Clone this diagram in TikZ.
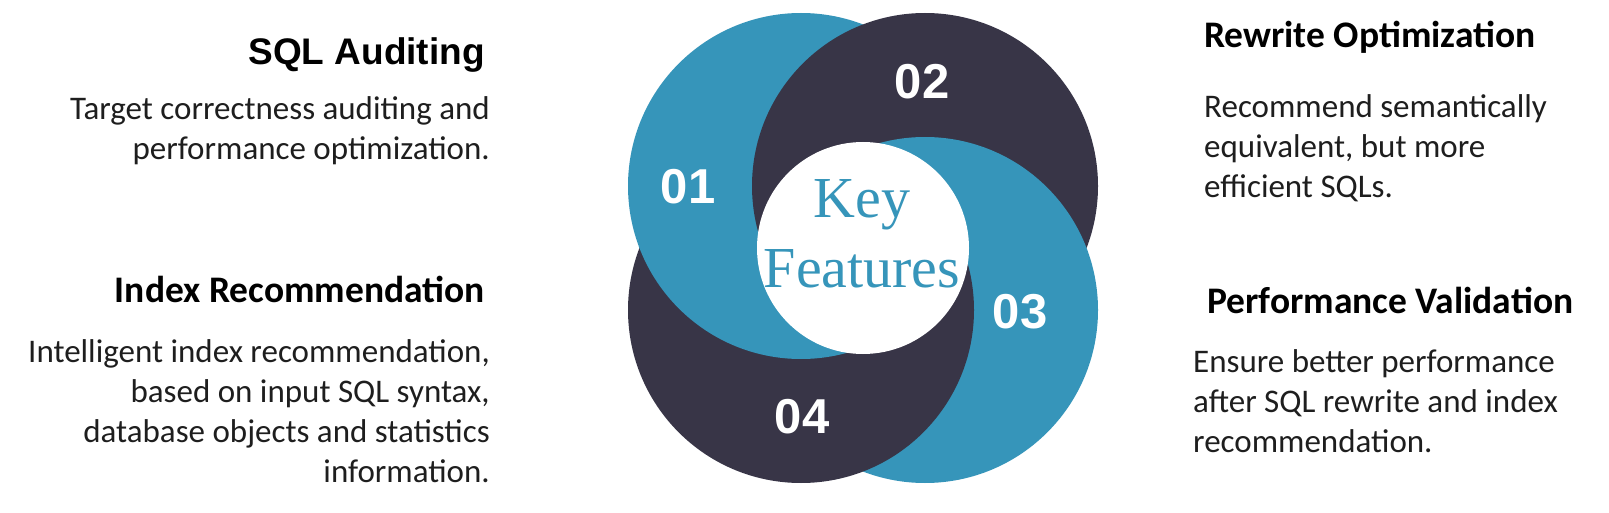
\documentclass[tikz,border=0pt]{standalone}
\usepackage{fontspec}
\setmainfont{Carlito}
\newfontfamily\arialfont{Liberation Sans}
\newfontfamily\keyfont{Liberation Serif}
\definecolor{kblue}{HTML}{3695BA}
\definecolor{kdark}{HTML}{383547}
\definecolor{ktext}{HTML}{1E1E1E}
\begin{document}
\begin{tikzpicture}[x=1pt,y=-1pt,
  num/.style={text=white,font=\arialfont\bfseries\fontsize{49}{49}\selectfont,inner sep=0pt},
  headL/.style={anchor=base east,inner sep=0pt,text=black},
  headR/.style={anchor=base west,inner sep=0pt,text=black,font=\bfseries\fontsize{37.5}{37.5}\selectfont},
  bodyL/.style={anchor=base east,inner sep=0pt,align=right,text=ktext,font=\fontsize{33}{40}\selectfont},
  bodyR/.style={anchor=base west,inner sep=0pt,align=left,text=ktext,font=\fontsize{33}{40}\selectfont},
  keytext/.style={text=kblue,font=\keyfont\fontsize{58}{70}\selectfont,align=center,inner sep=0pt}
]
\fill[white] (0,0) rectangle (1609,513);
\useasboundingbox (0,0) rectangle (1609,513);
% circle centres
\coordinate (c1) at (801,186);
\coordinate (c2) at (925,186);
\coordinate (c3) at (925,310);
\coordinate (c4) at (801,310);
\coordinate (cc) at (863,248);
\def\R{173pt}
\fill[kblue] (c1) circle[radius=\R];
\fill[kdark] (c2) circle[radius=\R];
\fill[kblue] (c3) circle[radius=\R];
\fill[kdark] (c4) circle[radius=\R];
\begin{scope}
  \clip (c4) circle[radius=174pt];
  \fill[kblue] (c1) circle[radius=\R];
\end{scope}
\begin{scope}
  \clip (c4) circle[radius=175pt];
  \clip (c1) circle[radius=\R];
  \fill[kdark] (c2) circle[radius=\R];
\end{scope}
\fill[white] (cc) circle[radius=106pt];
% numbers
\node[num] (n1) at (688,187) {01};
\node[num] (n2) at (922,82) {02};
\node[num] (n3) at (1020,312) {03};
\node[num] (n4) at (802,417) {04};
% centre text (base = last line)
\node[keytext,anchor=base] (key) at (862,287) {Key\\Features};
% left texts
\node[headL,font=\arialfont\bfseries\fontsize{37}{37}\selectfont] (h1) at (485,65) {SQL Auditing};
\node[bodyL] (b1) at (490,160) {Target correctness auditing and\\performance optimization.};
\node[headL,font=\bfseries\fontsize{37.5}{37.5}\selectfont] (h4) at (485,302) {Index Recommendation};
\node[bodyL] (b4) at (490,482) {Intelligent index recommendation,\\based on input SQL syntax,\\database objects and statistics\\information.};
% right texts
\node[headR] (h2) at (1204,48) {Rewrite Optimization};
\node[bodyR] (b2) at (1204,198) {Recommend semantically\\equivalent, but more\\efficient SQLs.};
\node[headR] (h3) at (1207,313) {Performance Validation};
\node[bodyR] (b3) at (1193,452) {Ensure better performance\\after SQL rewrite and index\\recommendation.};
\end{tikzpicture}
\end{document}
